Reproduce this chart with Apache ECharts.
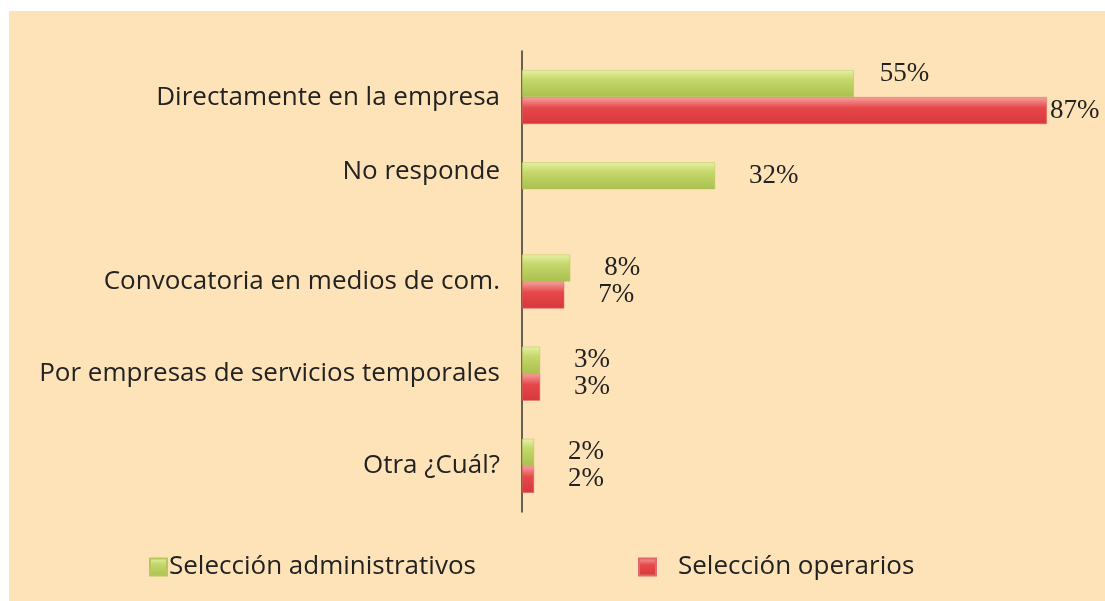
<!DOCTYPE html>
<html>
<head>
<meta charset="utf-8">
<script src="https://cdn.jsdelivr.net/npm/echarts@6/dist/echarts.min.js"></script>
<style>
  html, body { margin: 0; padding: 0; background: #fff; }
  #chart { width: 1105px; height: 601px; }
</style>
</head>
<body>
<div id="chart"></div>
<script>
// datos
const categories = [
  'Directamente en la empresa',
  'No responde',
  'Convocatoria en medios de com.',
  'Por empresas de servicios temporales',
  'Otra ¿Cuál?'
]
const seriesNames = ['Selección administrativos', 'Selección operarios']
const administrativos = [55, 32, 8, 3, 2]
const operarios = [87, null, 7, 3, 2]

const green = new echarts.graphic.LinearGradient(0, 0, 0, 1, [
  { offset: 0, color: '#e6f0a6' },
  { offset: 0.35, color: '#c6d86c' },
  { offset: 1, color: '#a9c04e' }
])
const red = new echarts.graphic.LinearGradient(0, 0, 0, 1, [
  { offset: 0, color: '#f4a39c' },
  { offset: 0.4, color: '#e5484b' },
  { offset: 1, color: '#d7373c' }
])

const labelFont = 'Open Sans'
const labelSize = 26
const valueFont = { fontFamily: 'Liberation Serif', fontSize: 27, color: '#222' }

// ajustes de etiquetas para algunos valores
const labelFix = {
  '0-0': { distance: 26, offset: [0, -10] },
  '1-0': { distance: 3 }
}

function buildData (values, s) {
  return values.map((v, i) => {
    const fix = labelFix[s + '-' + i]
    if (v === null) return null
    return fix ? { value: v, label: fix } : v
  })
}

const chart = echarts.init(document.getElementById('chart'))
chart.setOption({
  backgroundColor: '#fff',
  animation: false,
  graphic: [{
    type: 'rect',
    shape: { x: 9, y: 11, width: 1096, height: 590 },
    style: { fill: '#fee3b8' },
    z: -10
  }],
  grid: { left: 522, right: 40, top: 51, height: 461 },
  legend: [{
    data: [seriesNames[0]],
    left: 144,
    top: 549,
    icon: 'rect',
    itemWidth: 17,
    itemHeight: 17,
    textStyle: { fontFamily: labelFont, fontSize: labelSize, color: '#222', padding: [0, 0, 0, -3] }
  }, {
    data: [seriesNames[1]],
    left: 633,
    top: 549,
    icon: 'rect',
    itemWidth: 17,
    itemHeight: 17,
    textStyle: { fontFamily: labelFont, fontSize: labelSize, color: '#222', padding: [0, 0, 0, 17] }
  }],
  xAxis: {
    type: 'value',
    min: 0,
    max: 90,
    show: false,
    splitLine: { show: false }
  },
  yAxis: {
    type: 'category',
    inverse: true,
    data: categories,
    axisTick: { show: false },
    axisLine: { lineStyle: { color: '#333', width: 1.5 } },
    axisLabel: {
      margin: 22,
      fontFamily: labelFont,
      fontSize: labelSize,
      color: '#222',
      formatter: (v) => v === 'No responde' ? '{up|' + v + '}' : v,
      rich: {
        up: { fontFamily: labelFont, fontSize: labelSize, color: '#222', padding: [0, 0, 36, 0] }
      }
    }
  },
  series: [{
    name: seriesNames[0],
    type: 'bar',
    data: buildData(administrativos, 0),
    barWidth: 27,
    barGap: '0%',
    itemStyle: { color: green, borderColor: '#b5c95a', borderWidth: 0.5 },
    label: {
      show: true,
      position: 'right',
      distance: 34,
      formatter: '{c}%',
      ...valueFont
    }
  }, {
    name: seriesNames[1],
    type: 'bar',
    data: buildData(operarios, 1),
    barWidth: 27,
    barGap: '0%',
    itemStyle: { color: red, borderColor: '#e0676a', borderWidth: 0.5 },
    label: {
      show: true,
      position: 'right',
      distance: 34,
      formatter: '{c}%',
      ...valueFont
    }
  }]
})
</script>
</body>
</html>
